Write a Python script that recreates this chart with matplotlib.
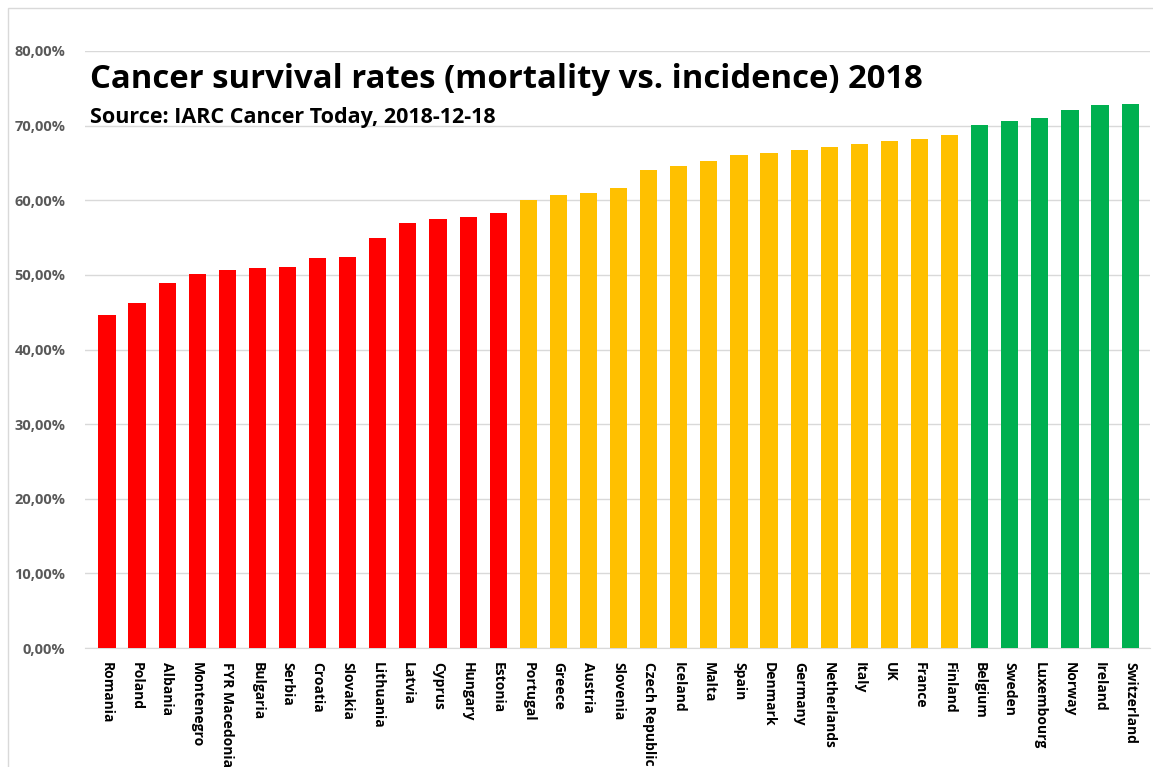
import matplotlib
matplotlib.use("Agg")
import matplotlib.pyplot as plt
from matplotlib.ticker import FuncFormatter
from matplotlib.patches import Rectangle

countries = ["Romania", "Poland", "Albania", "Montenegro", "FYR Macedonia", "Bulgaria",
             "Serbia", "Croatia", "Slovakia", "Lithuania", "Latvia", "Cyprus", "Hungary",
             "Estonia", "Portugal", "Greece", "Austria", "Slovenia", "Czech Republic",
             "Iceland", "Malta", "Spain", "Denmark", "Germany", "Netherlands", "Italy",
             "UK", "France", "Finland", "Belgium", "Sweden", "Luxembourg", "Norway",
             "Ireland", "Switzerland"]
survival = [0.4456, 0.4625, 0.489, 0.5017, 0.506, 0.509, 0.5107, 0.523, 0.5245, 0.550,
            0.570, 0.575, 0.577, 0.583, 0.600, 0.6076, 0.6103, 0.616, 0.640, 0.646,
            0.653, 0.660, 0.663, 0.668, 0.672, 0.676, 0.679, 0.6815, 0.687, 0.7013,
            0.7057, 0.7098, 0.721, 0.727, 0.729]
groups = ["low"] * 14 + ["mid"] * 15 + ["high"] * 6
group_colors = {"low": "#FF0000", "mid": "#FFC000", "high": "#00B050"}

title = "Cancer survival rates (mortality vs. incidence) 2018"
subtitle = "Source: IARC Cancer Today, 2018-12-18"

plt.rcParams['font.family'] = ['Open Sans', 'DejaVu Sans']

fig = plt.figure(figsize=(11.53, 7.67), dpi=100)
ax = fig.add_axes([85 / 1153, 1 - 648 / 767, (1150 - 85) / 1153, (648 - 51) / 767])

x = list(range(len(countries)))
colors = [group_colors[g] for g in groups]
ax.bar(x, survival, width=0.57, color=colors, zorder=3)

ax.set_ylim(0, 0.8)
ax.set_xlim(-0.73, len(countries) - 0.34)
ax.set_yticks([i / 10 for i in range(9)])
ax.yaxis.set_major_formatter(FuncFormatter(lambda v, p: f"{v * 100:.2f}%".replace(".", ",")))
ax.grid(axis="y", color="#D9D9D9", linewidth=1, zorder=0)
ax.set_xticks(x)
ax.set_xticklabels(countries, rotation=270, fontsize=10, fontweight="bold", va="top", ha="center")
ax.tick_params(axis="x", length=0, pad=10)
ax.tick_params(axis="y", length=0, labelsize=10.5, labelcolor="#595959", pad=14)
for lab in ax.get_yticklabels():
    lab.set_fontweight("bold")

for side in ["top", "right", "left"]:
    ax.spines[side].set_visible(False)
ax.spines["bottom"].set_color("#D9D9D9")

fig.text(90 / 1153, 1 - 80 / 767, title, fontsize=23.7, fontweight="bold", va="center", ha="left")
fig.text(90 / 1153, 1 - 118 / 767, subtitle, fontsize=15.5, fontweight="bold", va="center", ha="left")

# thin chart border on the left and top
fig.add_artist(Rectangle((8 / 1153, -0.1), 1.2, 1.1 - 8 / 767, transform=fig.transFigure,
                         fill=False, edgecolor="#D9D9D9", linewidth=1))

fig.savefig("out.png", dpi=100)
